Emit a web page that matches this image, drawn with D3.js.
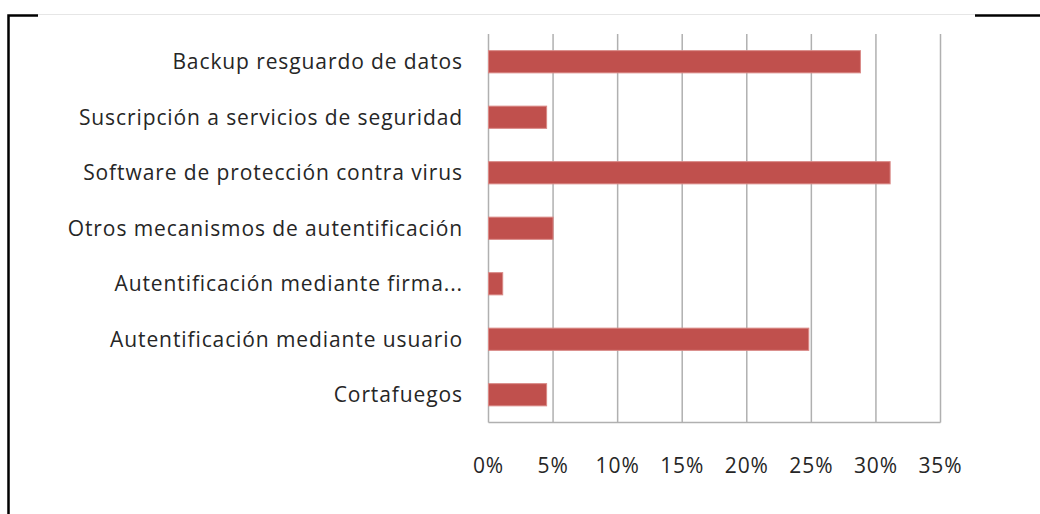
<!DOCTYPE html>
<html>
<head>
<meta charset="utf-8">
<script src="https://cdn.jsdelivr.net/npm/d3@7"></script>
<style>
  body { margin: 0; background: #fff; }
  text { font-family: "Open Sans", sans-serif; fill: #262626; }
</style>
</head>
<body>
<script>
// categories, top to bottom
var categories = [
  "Backup resguardo de datos",
  "Suscripción a servicios de seguridad",
  "Software de protección contra virus",
  "Otros mecanismos de autentificación",
  "Autentificación mediante firma...",
  "Autentificación mediante usuario",
  "Cortafuegos"
];
// share of respondents, percent
var values = [28.8, 4.5, 31.1, 5.0, 1.1, 24.8, 4.5];
var ticks = [0, 5, 10, 15, 20, 25, 30, 35];

var width = 1040, height = 514;
var plot = {left: 488.5, right: 940.5, top: 34, bottom: 422.5};

var svg = d3.select("body").append("svg")
    .attr("width", width)
    .attr("height", height);

// frame bits around the chart
svg.append("line").attr("x1", 38).attr("x2", 975).attr("y1", 14.5).attr("y2", 14.5)
    .attr("stroke", "#e6e6e6").attr("stroke-width", 1);
svg.append("path").attr("d", "M38,15.5H8.5V514")
    .attr("fill", "none").attr("stroke", "#000").attr("stroke-width", 2.5);
svg.append("line").attr("x1", 975).attr("x2", 1040).attr("y1", 15.5).attr("y2", 15.5)
    .attr("stroke", "#000").attr("stroke-width", 2.5);

var x = d3.scaleLinear().domain([0, 35]).range([plot.left, plot.right]);
var y = d3.scaleBand().domain(categories).range([plot.top, plot.bottom]).paddingInner(0.6).paddingOuter(0.3);

// vertical gridlines
svg.append("g").selectAll("line")
    .data(ticks)
    .join("line")
    .attr("x1", d => x(d)).attr("x2", d => x(d))
    .attr("y1", plot.top).attr("y2", plot.bottom)
    .attr("stroke", "#b0b0b0").attr("stroke-width", 1.5);

// bottom axis line
svg.append("line")
    .attr("x1", plot.left).attr("x2", plot.right)
    .attr("y1", plot.bottom).attr("y2", plot.bottom)
    .attr("stroke", "#b0b0b0").attr("stroke-width", 1.5);

// bars
svg.append("g").selectAll("rect")
    .data(values)
    .join("rect")
    .attr("x", x(0))
    .attr("y", (d, i) => y(categories[i]))
    .attr("width", d => x(d) - x(0))
    .attr("height", y.bandwidth())
    .attr("fill", "#c0504d")
    .attr("stroke", "#d98986")
    .attr("stroke-width", 1);

// category labels
svg.append("g").selectAll("text")
    .data(categories)
    .join("text")
    .attr("x", 463)
    .attr("y", d => y(d) + y.bandwidth() / 2)
    .attr("dy", "0.35em")
    .attr("text-anchor", "end")
    .style("font-size", "21px")
    .style("letter-spacing", "0.9px")
    .text(d => d);

// tick labels
svg.append("g").selectAll("text")
    .data(ticks)
    .join("text")
    .attr("x", d => x(d))
    .attr("y", 466)
    .attr("dy", "0.35em")
    .attr("text-anchor", "middle")
    .style("font-size", "21px")
    .style("letter-spacing", "0.9px")
    .text(d => d + "%");
</script>
</body>
</html>
